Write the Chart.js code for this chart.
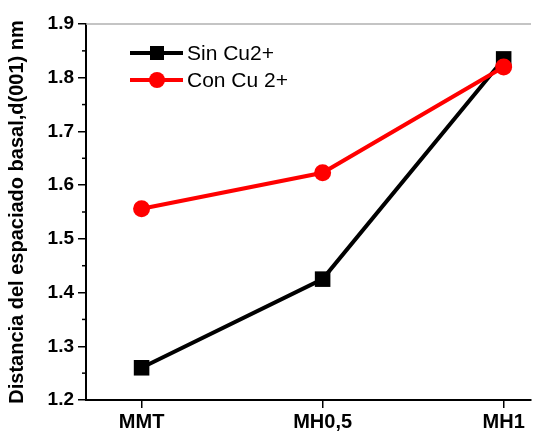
<!DOCTYPE html>
<html>
<head>
<meta charset="utf-8">
<script src="https://cdn.jsdelivr.net/npm/chart.js@4"></script>
<style>
  html, body { margin: 0; padding: 0; background: #fff; }
  #wrap { width: 542px; height: 433px; }
</style>
</head>
<body>
<div id="wrap"><canvas id="chart" width="542" height="433"></canvas></div>
<script>
// data
const categories = ['MMT', 'MH0,5', 'MH1'];
const sinCu = [1.26, 1.425, 1.835];
const conCu = [1.556, 1.623, 1.82];
const yTicks = [1.2, 1.3, 1.4, 1.5, 1.6, 1.7, 1.8, 1.9];
const seriesNames = ['Sin Cu2+', 'Con Cu 2+'];

const FONT = "'Liberation Sans', Arial, sans-serif";

function toPoints(values) {
  return values.map((v, i) => ({ x: i, y: v }));
}

/* minor ticks, top frame line and in-plot legend */
const decorPlugin = {
  id: 'decor',
  afterDraw(chart) {
    const ctx = chart.ctx;
    const area = chart.chartArea;
    const y = chart.scales.y;

    ctx.save();
    // grey top line
    ctx.strokeStyle = '#b0b0b0';
    ctx.lineWidth = 1.5;
    ctx.beginPath();
    ctx.moveTo(area.left, area.top);
    ctx.lineTo(area.right, area.top);
    ctx.stroke();

    // minor ticks on y axis
    ctx.strokeStyle = '#000';
    ctx.lineWidth = 1.5;
    for (let i = 0; i < yTicks.length - 1; i++) {
      const py = y.getPixelForValue((yTicks[i] + yTicks[i + 1]) / 2);
      ctx.beginPath();
      ctx.moveTo(area.left - 4, py);
      ctx.lineTo(area.left, py);
      ctx.stroke();
    }

    // legend
    const rows = [53, 80];
    chart.data.datasets.forEach((ds, i) => {
      const ly = rows[i];
      ctx.strokeStyle = ds.borderColor;
      ctx.lineWidth = 4;
      ctx.beginPath();
      ctx.moveTo(130, ly);
      ctx.lineTo(183, ly);
      ctx.stroke();
      ctx.fillStyle = ds.pointBackgroundColor;
      if (ds.pointStyle === 'rect') {
        ctx.fillRect(157 - 7, ly - 7, 14, 14);
      } else {
        ctx.beginPath();
        ctx.arc(157, ly, 8, 0, Math.PI * 2);
        ctx.fill();
      }
      ctx.fillStyle = '#000';
      ctx.font = '21px ' + FONT;
      ctx.textBaseline = 'middle';
      ctx.textAlign = 'left';
      ctx.fillText(ds.label, 187, ly + 1);
    });
    ctx.restore();
  }
};

new Chart(document.getElementById('chart'), {
  type: 'line',
  data: {
    datasets: [
      {
        label: seriesNames[0],
        data: toPoints(sinCu),
        borderColor: '#000000',
        backgroundColor: '#000000',
        pointBackgroundColor: '#000000',
        pointBorderWidth: 0,
        borderWidth: 4,
        pointStyle: 'rect',
        pointRadius: 11,
        order: 1
      },
      {
        label: seriesNames[1],
        data: toPoints(conCu),
        borderColor: '#ff0000',
        backgroundColor: '#ff0000',
        pointBackgroundColor: '#ff0000',
        pointBorderWidth: 0,
        borderWidth: 4,
        pointStyle: 'circle',
        pointRadius: 8.5,
        order: 0
      }
    ]
  },
  options: {
    responsive: false,
    animation: false,
    layout: { padding: { top: 24, right: 0, left: 0, bottom: 0 } },
    plugins: {
      legend: { display: false },
      tooltip: { enabled: false }
    },
    scales: {
      x: {
        type: 'linear',
        min: -0.307,
        max: 2.151,
        afterFit(scale) { scale.height = 33; },
        border: { color: '#000', width: 2 },
        grid: {
          drawOnChartArea: false,
          drawTicks: true,
          tickLength: 8,
          color: '#000',
          lineWidth: 1.5
        },
        ticks: {
          stepSize: 1,
          includeBounds: false,
          autoSkip: false,
          maxRotation: 0,
          padding: 2,
          color: '#000',
          font: { family: FONT, size: 20, weight: 'bold' },
          callback: (v) => (Number.isInteger(v) && categories[v] !== undefined) ? categories[v] : ''
        }
      },
      y: {
        min: yTicks[0],
        max: yTicks[yTicks.length - 1],
        afterFit(scale) { scale.width = 86; },
        afterBuildTicks(scale) { scale.ticks = yTicks.map(v => ({ value: v })); },
        border: { color: '#000', width: 2 },
        grid: {
          drawOnChartArea: false,
          drawTicks: true,
          tickLength: 8,
          color: '#000',
          lineWidth: 1.5
        },
        ticks: {
          padding: 4,
          color: '#000',
          font: { family: FONT, size: 19, weight: 'bold' },
          callback: (v) => Number(v).toFixed(1)
        },
        title: {
          display: true,
          text: 'Distancia del espaciado basal,d(001) nm',
          color: '#000',
          padding: { top: 5, bottom: 0 },
          font: { family: FONT, size: 20, weight: 'bold' }
        }
      }
    }
  },
  plugins: [decorPlugin]
});
</script>
</body>
</html>
